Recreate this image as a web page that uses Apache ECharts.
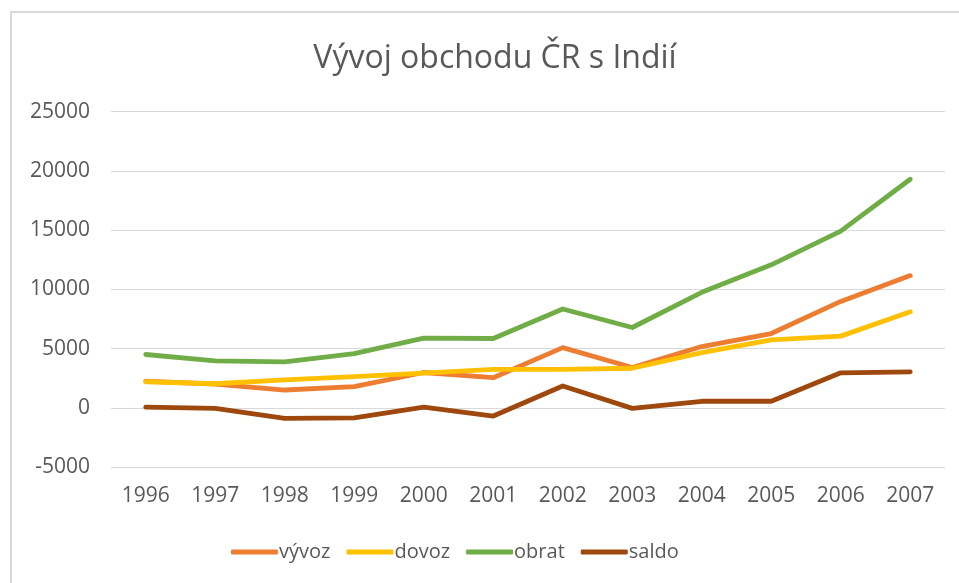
<!DOCTYPE html>
<html>
<head>
<meta charset="utf-8">
<script src="https://cdn.jsdelivr.net/npm/echarts@6/dist/echarts.min.js"></script>
<style>
html,body{margin:0;padding:0;background:#fff;}
#chart{width:959px;height:583px;}
</style>
</head>
<body>
<div id="chart"></div>
<script>
const years = ['1996','1997','1998','1999','2000','2001','2002','2003','2004','2005','2006','2007'];
const vyvoz = [2250, 2000, 1500, 1780, 2980, 2540, 5080, 3400, 5170, 6270, 8980, 11160];
const dovoz = [2200, 2030, 2350, 2630, 2920, 3250, 3250, 3340, 4660, 5740, 6050, 8110];
const obrat = [4500, 3960, 3870, 4580, 5880, 5850, 8340, 6780, 9750, 12070, 14920, 19300];
const saldo = [50, -50, -900, -850, 60, -700, 1840, -50, 550, 550, 2950, 3030];
const yTicks = {min: -5000, max: 25000, interval: 5000};

const chart = echarts.init(document.getElementById('chart'), null, {renderer: 'canvas'});
const font = '"Open Sans", sans-serif';
const lineSeries = (name, data, color) => ({
  name, type: 'line', data, symbol: 'none', smooth: false,
  lineStyle: {color, width: 4.8, cap: 'round', join: 'round'},
  itemStyle: {color}
});
chart.setOption({
  animation: false,
  backgroundColor: '#fff',
  title: {
    text: 'Vývoj obchodu ČR s Indií',
    left: 490, top: 38, textAlign: 'center',
    textStyle: {fontFamily: font, fontSize: 32, fontWeight: 'normal', color: '#595959'}
  },
  graphic: [{
    type: 'rect', shape: {x: 11, y: 12, width: 1000, height: 1000},
    style: {fill: 'none', stroke: '#d9d9d9', lineWidth: 2}, silent: true
  }],
  grid: {left: 111, right: 14, top: 111.7, bottom: 116, containLabel: false},
  xAxis: {
    type: 'category', data: years, boundaryGap: true,
    axisLine: {show: false}, axisTick: {show: false},
    axisLabel: {fontFamily: font, fontSize: 21, color: '#595959', margin: 19},
    splitLine: {show: false}
  },
  yAxis: {
    type: 'value', min: yTicks.min, max: yTicks.max, interval: yTicks.interval,
    axisLine: {show: false}, axisTick: {show: false},
    axisLabel: {fontFamily: font, fontSize: 21, color: '#595959', margin: 21,
      formatter: v => String(v)},
    splitLine: {lineStyle: {color: '#d9d9d9', width: 1}}
  },
  legend: {
    left: 226, top: 537, itemWidth: 47, itemHeight: 5, itemGap: 16,
    icon: 'roundRect',
    textStyle: {fontFamily: font, fontSize: 20, color: '#595959', padding: [0, 0, 0, -4]},
    data: ['vývoz', 'dovoz', 'obrat', 'saldo']
  },
  series: [
    lineSeries('vývoz', vyvoz, '#ED7D31'),
    lineSeries('dovoz', dovoz, '#FFC000'),
    lineSeries('obrat', obrat, '#70AD47'),
    lineSeries('saldo', saldo, '#9E480E')
  ]
});
</script>
</body>
</html>
